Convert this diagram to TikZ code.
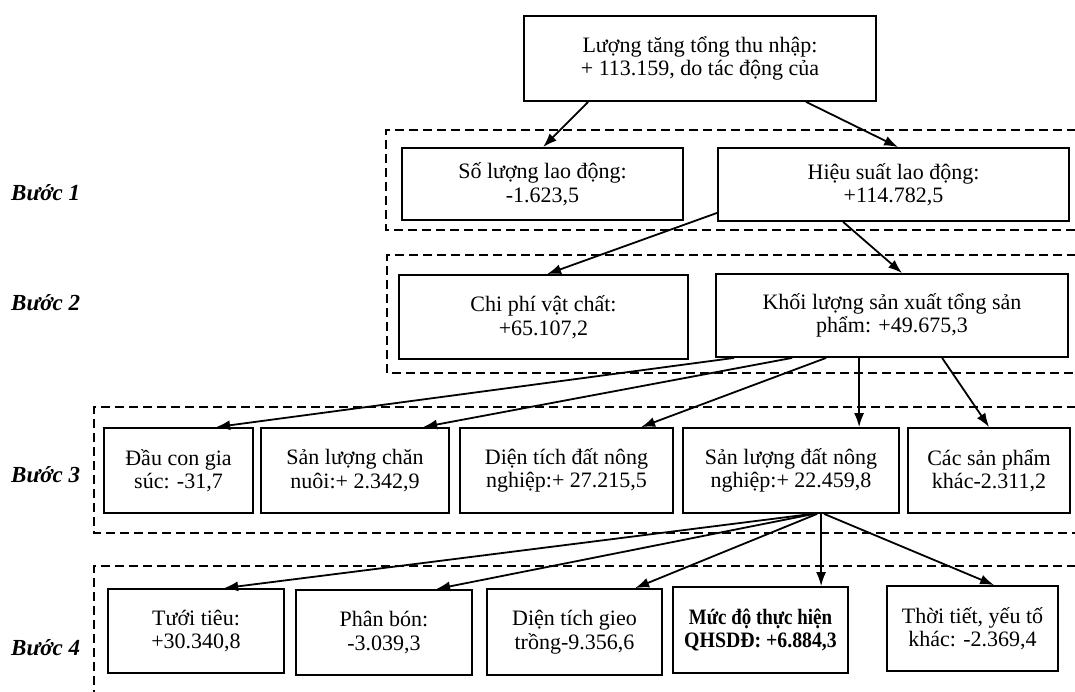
\documentclass[tikz,border=0pt]{standalone}
\usepackage{fontspec}
\setmainfont{Liberation Serif}
\usetikzlibrary{arrows.meta}
\begin{document}
\begin{tikzpicture}[x=1pt,y=-1pt,
  box/.style={draw, line width=1.8pt, align=center, inner sep=0pt,
    font=\fontsize{22pt}{23.5pt}\selectfont},
  grp/.style={draw, dash pattern=on 9pt off 5pt, line width=1.5pt},
  steplabel/.style={anchor=west, inner sep=0pt, font=\fontsize{23pt}{25pt}\selectfont\bfseries\itshape},
  conn/.style={line width=1.8pt, -{Latex[length=14pt,width=10pt]}}]
\useasboundingbox (0,0) rectangle (1075,691);
\clip (0,0) rectangle (1075,691);
\fill[white] (0,0) rectangle (1075,691);
% groups
\draw[grp] (1090,130) -- (386,130) -- (386,230) -- (1090,230);
\draw[grp] (1090,255) -- (387,255) -- (387,373) -- (1090,373);
\draw[grp] (1090,407) -- (94,407) -- (94,533) -- (1090,533);
\draw[grp] (1090,566) -- (94,566) -- (94,700);
% labels
\node[steplabel] (l1) at (11,193) {Bước 1};
\node[steplabel] (l2) at (11,303) {Bước 2};
\node[steplabel] (l3) at (11,475) {Bước 3};
\node[steplabel] (l4) at (11,648) {Bước 4};
% boxes
\node[box, minimum width=352pt, minimum height=85pt] (top) at (700,58.5) {Lượng tăng tổng thu nhập:\\+ 113.159, do tác động của};
\node[box, minimum width=281pt, minimum height=72pt] (so) at (542.5,184) {Số lượng lao động:\\-1.623,5};
\node[box, minimum width=351pt, minimum height=73pt] (hieu) at (893.5,184.5) {Hiệu suất lao động:\\+114.782,5};
\node[box, minimum width=289pt, minimum height=84pt] (chiphi) at (543.5,317) {Chi phí vật chất:\\+65.107,2};
\node[box, minimum width=352pt, minimum height=83pt] (khoi) at (892,315.5) {Khối lượng sản xuất tổng sản\\phẩm: +49.675,3};
\node[box, minimum width=149pt, minimum height=85pt] (s3a) at (178.5,470.5) {Đầu con gia\\súc: -31,7};
\node[box, minimum width=188pt, minimum height=85pt] (s3b) at (355,470.5) {Sản lượng chăn\\nuôi:+ 2.342,9};
\node[box, minimum width=213pt, minimum height=85pt] (s3c) at (566.5,470.5) {Diện tích đất nông\\nghiệp:+ 27.215,5};
\node[box, minimum width=216pt, minimum height=85pt] (s3d) at (791,470.5) {Sản lượng đất nông\\nghiệp:+ 22.459,8};
\node[box, minimum width=162pt, minimum height=85pt] (s3e) at (989,470.5) {Các sản phẩm\\khác-2.311,2};
\node[box, minimum width=176pt, minimum height=84pt] (s4a) at (196,631) {Tưới tiêu:\\+30.340,8};
\node[box, minimum width=176pt, minimum height=85pt] (s4b) at (384,632.5) {Phân bón:\\-3.039,3};
\node[box, minimum width=175pt, minimum height=86pt] (s4c) at (574.5,632) {Diện tích gieo\\trồng-9.356,6};
\node[box, minimum width=175pt, minimum height=86pt] (s4d) at (760.5,630) {\scalebox{0.86}[1]{\bfseries Mức độ thực hiện}\\\scalebox{0.9}[1]{\bfseries QHSDĐ: +6.884,3}};
\node[box, minimum width=171pt, minimum height=85pt] (s4e) at (972.5,628.5) {Thời tiết, yếu tố\\khác: -2.369,4};
% connectors
\draw[conn] ([xshift=65pt]top.south west) -- ([xshift=142pt]so.north west);
\draw[conn] ([xshift=283pt]top.south west) -- ([xshift=181pt]hieu.north west);
\draw[conn] ([yshift=9pt]hieu.south west) -- ([xshift=149pt]chiphi.north west);
\draw[conn] ([xshift=126pt]hieu.south west) -- ([xshift=187pt]khoi.north west);
\draw[conn] ([xshift=19pt]khoi.south west) -- ([xshift=113pt]s3a.north west);
\draw[conn] ([xshift=77pt]khoi.south west) -- ([xshift=163pt]s3b.north west);
\draw[conn] ([xshift=111pt]khoi.south west) -- ([xshift=182pt]s3c.north west);
\draw[conn] ([xshift=144pt]khoi.south west) -- ([xshift=177pt]s3d.north west);
\draw[conn] ([xshift=227pt]khoi.south west) -- ([xshift=82pt]s3e.north west);
\draw[conn] ([xshift=130pt]s3d.south west) -- ([xshift=117pt]s4a.north west);
\draw[conn] ([xshift=132pt]s3d.south west) -- ([xshift=141pt]s4b.north west);
\draw[conn] ([xshift=135pt]s3d.south west) -- ([xshift=149pt]s4c.north west);
\draw[conn] ([xshift=139pt]s3d.south west) -- ([xshift=149pt]s4d.north west);
\draw[conn] ([xshift=142pt]s3d.south west) -- ([xshift=108pt]s4e.north west);
\end{tikzpicture}
\end{document}
